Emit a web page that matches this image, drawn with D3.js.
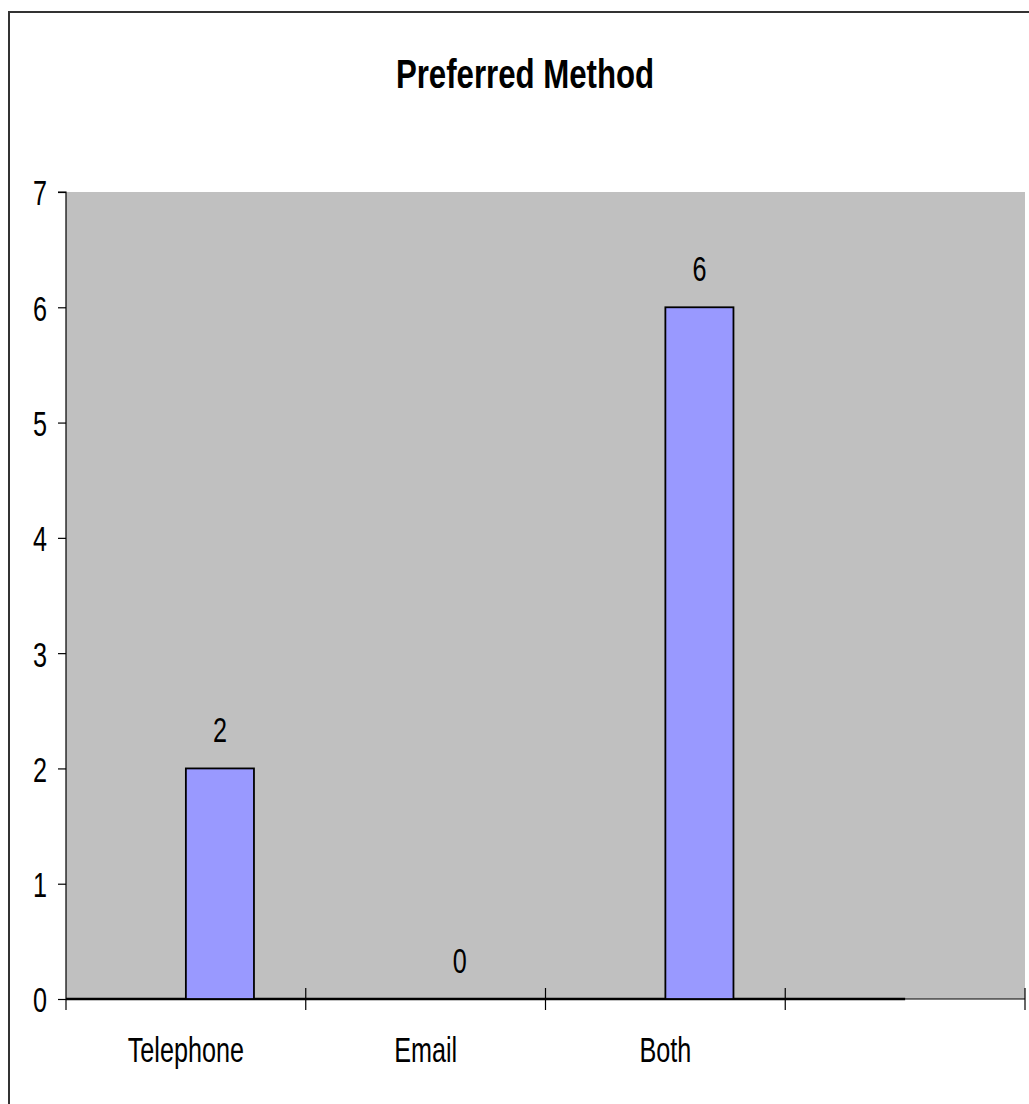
<!DOCTYPE html>
<html>
<head>
<meta charset="utf-8">
<script src="https://cdn.jsdelivr.net/npm/d3@7"></script>
<style>
  html, body { margin: 0; padding: 0; background: #fff; }
  svg { display: block; }
  text { font-family: "Liberation Sans Narrow", "Arial Narrow", "Liberation Sans", Arial, sans-serif; fill: #000; }
</style>
</head>
<body>
<script>
const title = "Preferred Method";
const categories = ["Telephone", "Email", "Both", ""];
const values = [2, 0, 6, null];
const yTicks = [0, 1, 2, 3, 4, 5, 6, 7];

const W = 1029, H = 1104;
const SX = 0.7;      // horizontal condensing of the narrow font
const SXB = 0.78;    // for the bold title
const svg = d3.select("body").append("svg").attr("width", W).attr("height", H);

// outer chart border
svg.append("rect").attr("x", 9).attr("y", 12).attr("width", W + 10).attr("height", H + 10)
  .attr("fill", "#fff").attr("stroke", "#333").attr("stroke-width", 2);

const plot = { left: 66, right: 1025, top: 192, bottom: 999 };

const x = d3.scaleBand().domain(categories).range([plot.left, plot.right]).padding(0);
const y = d3.scaleLinear().domain([0, 7]).range([plot.bottom, plot.top]);

// plot area
svg.append("rect").attr("x", plot.left).attr("y", plot.top)
  .attr("width", plot.right - plot.left).attr("height", plot.bottom - plot.top)
  .attr("fill", "#C0C0C0");

function ctext(g, px, py, str, size, sx, anchor, weight) {
  return g.append("text").attr("transform", `translate(${px},${py}) scale(${sx},1)`)
    .attr("text-anchor", anchor || "middle").attr("font-size", size)
    .attr("font-weight", weight || "normal").text(str);
}

// title
ctext(svg, 525, 88, title, 40, SXB, "middle", "bold");

// y axis
const yAxis = d3.axisLeft(y).tickValues(yTicks).tickSize(8).tickPadding(11).tickFormat(d3.format("d"));
const gy = svg.append("g").attr("transform", `translate(${plot.left},0)`).call(yAxis);
gy.select(".domain").attr("stroke", "#000").attr("stroke-width", 1.2).attr("d", `M-8,${plot.top}H0V${plot.bottom}`);
gy.selectAll(".tick line").attr("stroke", "#000").attr("stroke-width", 1.2);
gy.selectAll(".tick text").attr("font-size", 36).attr("font-family", null)
  .attr("x", -19 / SX).attr("transform", `scale(${SX},1)`).attr("dy", "0.36em");

// x axis (tick marks at category boundaries)
const bw = x.bandwidth();
const bounds = categories.map(c => x(c)).concat([plot.right]);
svg.append("g").selectAll("line").data(bounds).join("line")
  .attr("x1", d => d).attr("x2", d => d)
  .attr("y1", (d, i) => i === 0 ? plot.bottom : plot.bottom - 11)
  .attr("y2", plot.bottom + 11)
  .attr("stroke", "#000").attr("stroke-width", 1.2);
svg.append("line").attr("x1", plot.left).attr("x2", plot.right)
  .attr("y1", plot.bottom).attr("y2", plot.bottom).attr("stroke", "#000").attr("stroke-width", 1.2);
// heavier baseline under the series
svg.append("line").attr("x1", plot.left).attr("x2", x(categories[3]) + bw / 2)
  .attr("y1", plot.bottom).attr("y2", plot.bottom).attr("stroke", "#000").attr("stroke-width", 2.5);

// category labels
const gc = svg.append("g");
categories.forEach(c => { if (c) ctext(gc, x(c) + bw / 2, 1062, c, 36, SX); });

// bars
const barW = bw * 0.284;
const barData = categories.map((c, i) => ({ c, v: values[i] })).filter(d => d.v !== null);
svg.append("g").selectAll("rect").data(barData).join("rect")
  .attr("x", d => x(d.c) + bw / 2).attr("width", barW)
  .attr("y", d => y(d.v)).attr("height", d => y(0) - y(d.v))
  .attr("fill", "#9999FF").attr("stroke", "#000").attr("stroke-width", 1.8);

// value labels
const gv = svg.append("g");
barData.forEach(d => ctext(gv, x(d.c) + bw / 2 + barW / 2, y(d.v) - 26, String(d.v), 36, SX));
</script>
</body>
</html>
